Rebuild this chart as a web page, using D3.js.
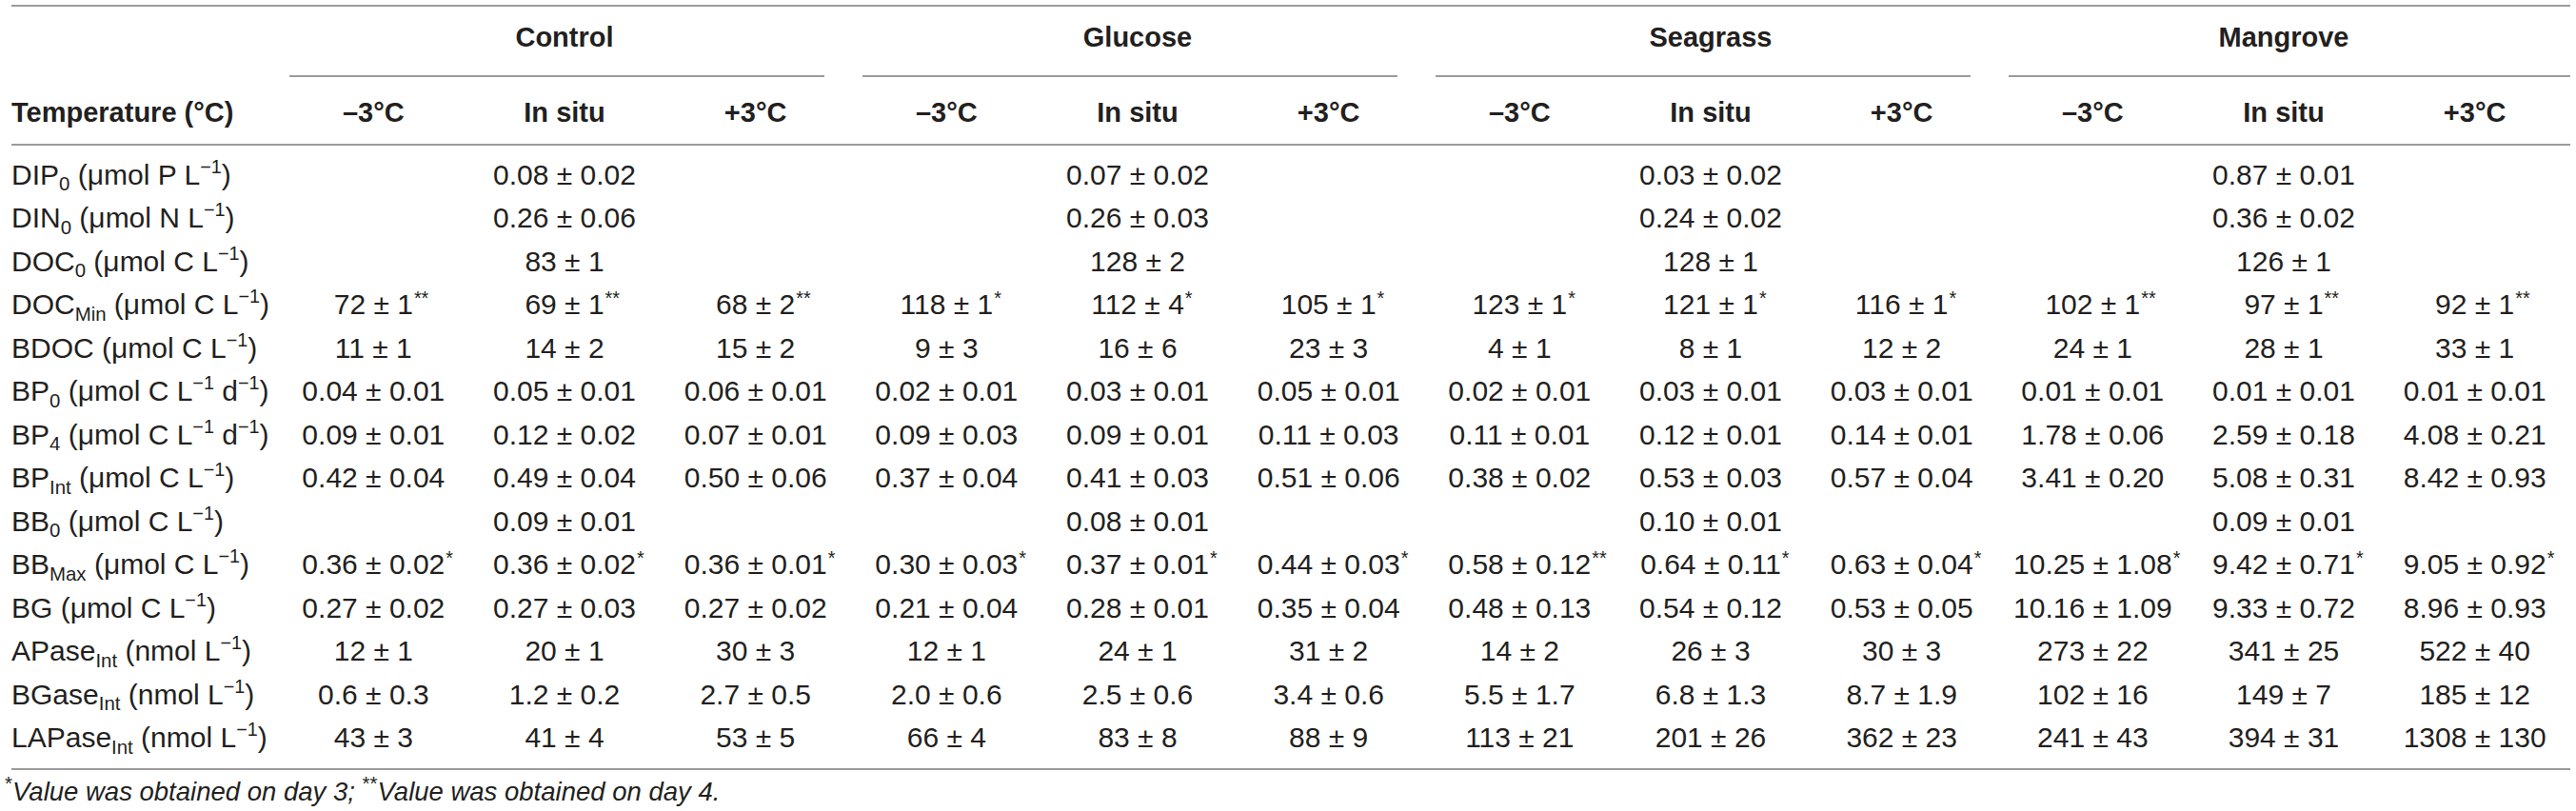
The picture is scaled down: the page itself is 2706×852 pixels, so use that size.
<!DOCTYPE html>
<html><head><meta charset="utf-8">
<script src="https://cdn.jsdelivr.net/npm/d3@7"></script>
<style>body{margin:0;background:#fff} svg{display:block}</style>
</head><body>
<svg id="t" width="2706" height="852"></svg>
<script>
const groups = ["Control", "Glucose", "Seagrass", "Mangrove"];
const temps = ["–3°C", "In situ", "+3°C"];
const stubHeader = "Temperature (°C)";
const rowLabels = [
  "DIP_{0} (μmol P L^{−1})",
  "DIN_{0} (μmol N L^{−1})",
  "DOC_{0} (μmol C L^{−1})",
  "DOC_{Min} (μmol C L^{−1})",
  "BDOC (μmol C L^{−1})",
  "BP_{0} (μmol C L^{−1} d^{−1})",
  "BP_{4} (μmol C L^{−1} d^{−1})",
  "BP_{Int} (μmol C L^{−1})",
  "BB_{0} (μmol C L^{−1})",
  "BB_{Max} (μmol C L^{−1})",
  "BG (μmol C L^{−1})",
  "APase_{Int} (nmol L^{−1})",
  "BGase_{Int} (nmol L^{−1})",
  "LAPase_{Int} (nmol L^{−1})"
];
// each row: [–3°C, In situ, +3°C]
const controlValues = [
  [null, "0.08 ± 0.02", null],
  [null, "0.26 ± 0.06", null],
  [null, "83 ± 1", null],
  ["72 ± 1**", "69 ± 1**", "68 ± 2**"],
  ["11 ± 1", "14 ± 2", "15 ± 2"],
  ["0.04 ± 0.01", "0.05 ± 0.01", "0.06 ± 0.01"],
  ["0.09 ± 0.01", "0.12 ± 0.02", "0.07 ± 0.01"],
  ["0.42 ± 0.04", "0.49 ± 0.04", "0.50 ± 0.06"],
  [null, "0.09 ± 0.01", null],
  ["0.36 ± 0.02*", "0.36 ± 0.02*", "0.36 ± 0.01*"],
  ["0.27 ± 0.02", "0.27 ± 0.03", "0.27 ± 0.02"],
  ["12 ± 1", "20 ± 1", "30 ± 3"],
  ["0.6 ± 0.3", "1.2 ± 0.2", "2.7 ± 0.5"],
  ["43 ± 3", "41 ± 4", "53 ± 5"]
];
const glucoseValues = [
  [null, "0.07 ± 0.02", null],
  [null, "0.26 ± 0.03", null],
  [null, "128 ± 2", null],
  ["118 ± 1*", "112 ± 4*", "105 ± 1*"],
  ["9 ± 3", "16 ± 6", "23 ± 3"],
  ["0.02 ± 0.01", "0.03 ± 0.01", "0.05 ± 0.01"],
  ["0.09 ± 0.03", "0.09 ± 0.01", "0.11 ± 0.03"],
  ["0.37 ± 0.04", "0.41 ± 0.03", "0.51 ± 0.06"],
  [null, "0.08 ± 0.01", null],
  ["0.30 ± 0.03*", "0.37 ± 0.01*", "0.44 ± 0.03*"],
  ["0.21 ± 0.04", "0.28 ± 0.01", "0.35 ± 0.04"],
  ["12 ± 1", "24 ± 1", "31 ± 2"],
  ["2.0 ± 0.6", "2.5 ± 0.6", "3.4 ± 0.6"],
  ["66 ± 4", "83 ± 8", "88 ± 9"]
];
const seagrassValues = [
  [null, "0.03 ± 0.02", null],
  [null, "0.24 ± 0.02", null],
  [null, "128 ± 1", null],
  ["123 ± 1*", "121 ± 1*", "116 ± 1*"],
  ["4 ± 1", "8 ± 1", "12 ± 2"],
  ["0.02 ± 0.01", "0.03 ± 0.01", "0.03 ± 0.01"],
  ["0.11 ± 0.01", "0.12 ± 0.01", "0.14 ± 0.01"],
  ["0.38 ± 0.02", "0.53 ± 0.03", "0.57 ± 0.04"],
  [null, "0.10 ± 0.01", null],
  ["0.58 ± 0.12**", "0.64 ± 0.11*", "0.63 ± 0.04*"],
  ["0.48 ± 0.13", "0.54 ± 0.12", "0.53 ± 0.05"],
  ["14 ± 2", "26 ± 3", "30 ± 3"],
  ["5.5 ± 1.7", "6.8 ± 1.3", "8.7 ± 1.9"],
  ["113 ± 21", "201 ± 26", "362 ± 23"]
];
const mangroveValues = [
  [null, "0.87 ± 0.01", null],
  [null, "0.36 ± 0.02", null],
  [null, "126 ± 1", null],
  ["102 ± 1**", "97 ± 1**", "92 ± 1**"],
  ["24 ± 1", "28 ± 1", "33 ± 1"],
  ["0.01 ± 0.01", "0.01 ± 0.01", "0.01 ± 0.01"],
  ["1.78 ± 0.06", "2.59 ± 0.18", "4.08 ± 0.21"],
  ["3.41 ± 0.20", "5.08 ± 0.31", "8.42 ± 0.93"],
  [null, "0.09 ± 0.01", null],
  ["10.25 ± 1.08*", "9.42 ± 0.71*", "9.05 ± 0.92*"],
  ["10.16 ± 1.09", "9.33 ± 0.72", "8.96 ± 0.93"],
  ["273 ± 22", "341 ± 25", "522 ± 40"],
  ["102 ± 16", "149 ± 7", "185 ± 12"],
  ["241 ± 43", "394 ± 31", "1308 ± 130"]
];
const footnote = "^{*}_i{Value was obtained on day 3; }^{**}_i{Value was obtained on day 4.}";

// ---------- layout ----------
const FONT = "'Liberation Sans', Arial, Helvetica, sans-serif";
const left = 12, right = 2700, stubW = 292;
const fsBody = 30, fsHead = 29, fsNote = 27.5;
const lineColor = "#9b9b9b", textColor = "#231f20";

const svg = d3.select("#t").attr("font-family", FONT);
const groupValues = [controlValues, glucoseValues, seagrassValues, mangroveValues];
const colKeys = d3.range(groups.length * temps.length);
const x = d3.scaleBand().domain(colKeys).range([stubW, right]);
const gx = d3.scaleBand().domain(groups).range([stubW, right]);
const y = d3.scaleBand().domain(d3.range(rowLabels.length)).range([160.25, 797.25]);
const yHead1 = 39, yHead2 = 118;

function hline(y0, x0, x1) {
  svg.append("line").attr("x1", x0).attr("x2", x1).attr("y1", y0).attr("y2", y0)
    .attr("stroke", lineColor).attr("stroke-width", 2.2);
}
hline(6, left, right);
hline(152, left, right);
hline(808, left, right);

// group headers and underlines
groups.forEach((g, gi) => {
  const x0 = gx(g), x1 = x0 + gx.bandwidth();
  svg.append("text").attr("x", (x0 + x1) / 2).attr("y", yHead1 + fsHead * 0.36)
    .attr("text-anchor", "middle").attr("font-weight", "bold").attr("font-size", fsHead)
    .attr("fill", textColor).text(g);
  hline(80, x0 + 12, gi === groups.length - 1 ? right : x1 - 28);
});
// sub headers
svg.append("text").attr("x", left).attr("y", yHead2 + fsHead * 0.36)
  .attr("font-weight", "bold").attr("font-size", fsHead).attr("fill", textColor).text(stubHeader);
colKeys.forEach(c => {
  svg.append("text").attr("x", x(c) + x.bandwidth() / 2).attr("y", yHead2 + fsHead * 0.36)
    .attr("text-anchor", "middle").attr("font-weight", "bold").attr("font-size", fsHead)
    .attr("fill", textColor).text(temps[c % temps.length]);
});

// rich text helper: _{sub} ^{sup} _i{italic}
function rich(textSel, str, fs, supScale) {
  const parts = str.split(/(_i\{[^}]*\}|_\{[^}]*\}|\^\{[^}]*\})/).filter(s => s.length);
  let cur = 0;
  parts.forEach(p => {
    let t = p, shift = 0, size = fs, italic = false;
    if (p.startsWith("_i{")) { t = p.slice(3, -1); italic = true; }
    else if (p.startsWith("_{")) { t = p.slice(2, -1); shift = 0.22 * fs; size = fs * 0.68; }
    else if (p.startsWith("^{")) { t = p.slice(2, -1); shift = -0.40 * fs; size = fs * (supScale || 0.66); }
    const ts = textSel.append("tspan").attr("font-size", size).attr("dy", shift - cur).text(t);
    if (italic) ts.attr("font-style", "italic");
    cur = shift;
  });
}

// row labels
rowLabels.forEach((lab, i) => {
  const t = svg.append("text").attr("x", left).attr("y", y(i) + y.bandwidth() / 2 + fsBody * 0.36)
    .attr("font-size", fsBody).attr("fill", textColor);
  rich(t, lab, fsBody);
});

// values
const cells = [];
groupValues.forEach((gv, gi) => gv.forEach((row, ri) => row.forEach((v, ti) => {
  if (v) cells.push({ col: gi * temps.length + ti, row: ri, v });
})));
const cg = svg.append("g").attr("font-size", fsBody).attr("fill", textColor);
cg.selectAll("g.cell").data(cells).join("g").attr("class", "cell").each(function (d) {
  const m = d.v.match(/^(.*?)(\*+)?$/);
  const cx = x(d.col) + x.bandwidth() / 2, cy = y(d.row) + y.bandwidth() / 2 + fsBody * 0.36;
  const t = d3.select(this).append("text").attr("x", cx).attr("y", cy)
    .attr("text-anchor", "middle").text(m[1]);
  if (m[2]) {
    const len = t.node().getComputedTextLength();
    d3.select(this).append("text").attr("x", cx + len / 2 + 1).attr("y", cy - fsBody * 0.36)
      .attr("font-size", fsBody * 0.66).text(m[2]);
  }
});

// footnote
const fn = svg.append("text").attr("x", 5).attr("y", 841).attr("font-size", fsNote).attr("fill", textColor);
rich(fn, footnote, fsNote, 0.75);
</script>
</body></html>
